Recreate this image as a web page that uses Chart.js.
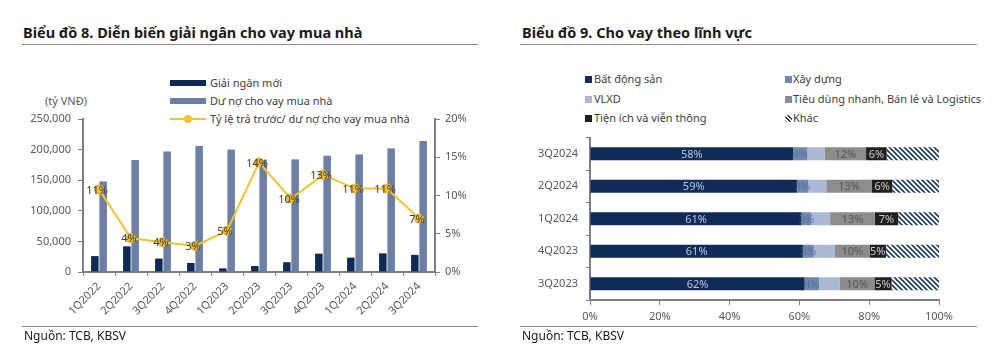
<!DOCTYPE html>
<html>
<head>
<meta charset="utf-8">
<script src="https://cdn.jsdelivr.net/npm/chart.js@4.4.0/dist/chart.umd.min.js"></script>
<style>
body{margin:0;width:1008px;height:361px;background:#fff;font-family:"Noto Sans",sans-serif;position:relative;overflow:hidden;color:#404040}
.title{position:absolute;top:22px;font-weight:700;font-size:14.5px;color:#1a1a1a;white-space:nowrap}
.rule{position:absolute;height:1px;background:#8c8c8c}
.src{position:absolute;top:327px;font-size:12px;color:#1a1a1a}
.lg{position:absolute;font-size:11px;white-space:nowrap;line-height:14px}
.sw{position:absolute}
.box{position:absolute;width:7px;height:7px}
.wrap{position:absolute}
</style>
</head>
<body>
<div class="title" style="left:23px">Biểu đồ 8. Diễn biến giải ngân cho vay mua nhà</div>
<div class="rule" style="left:22px;top:44px;width:456px"></div>
<div class="title" style="left:522px">Biểu đồ 9. Cho vay theo lĩnh vực</div>
<div class="rule" style="left:520px;top:44px;width:457px"></div>

<!-- legend left -->
<div class="sw" style="left:170px;top:80px;width:36px;height:6px;background:#0d2a57"></div>
<div class="lg" style="left:210px;top:76px">Giải ngân mới</div>
<div class="sw" style="left:170px;top:98px;width:36px;height:6px;background:#6a7fa3"></div>
<div class="lg" style="left:210px;top:94px">Dư nợ cho vay mua nhà</div>
<div class="sw" style="left:170px;top:118px;width:36px;height:2px;background:#f2c230"></div>
<div class="sw" style="left:184px;top:115px;width:8px;height:8px;border-radius:50%;background:#f2c230"></div>
<div class="lg" style="left:210px;top:112px">Tỷ lệ trả trước/ dư nợ cho vay mua nhà</div>
<div class="lg" style="left:45px;top:94px;color:#595959">(tỷ VNĐ)</div>

<!-- legend right -->
<div class="box" style="left:585px;top:76px;background:#102b56"></div>
<div class="lg" style="left:594px;top:72px">Bất động sản</div>
<div class="box" style="left:585px;top:96px;background:#a9b9d4"></div>
<div class="lg" style="left:594px;top:92px">VLXD</div>
<div class="box" style="left:585px;top:115px;background:#1f1f1f"></div>
<div class="lg" style="left:594px;top:111px">Tiện ích và viễn thông</div>
<div class="box" style="left:785px;top:76px;background:#7088b0"></div>
<div class="lg" style="left:793px;top:72px">Xây dựng</div>
<div class="box" style="left:785px;top:96px;background:#8c8c8c"></div>
<div class="lg" style="left:793px;top:92px">Tiêu dùng nhanh, Bán lẻ và Logistics</div>
<div class="box" style="left:785px;top:115px;border-radius:50%;background:repeating-linear-gradient(45deg,#1d3a66 0 1.5px,#fff 1.5px 3px)"></div>
<div class="lg" style="left:793px;top:111px">Khác</div>

<div class="wrap" style="left:0;top:100px;width:490px;height:230px"><canvas id="c1"></canvas></div>
<div class="wrap" style="left:510px;top:123px;width:490px;height:210px"><canvas id="c2"></canvas></div>

<div class="rule" style="left:22px;top:326px;width:456px"></div>
<div class="src" style="left:24px">Nguồn: TCB, KBSV</div>
<div class="rule" style="left:520px;top:326px;width:457px"></div>
<div class="src" style="left:522px">Nguồn: TCB, KBSV</div>

<script>
// Biểu đồ 8
var quarters = ['1Q2022','2Q2022','3Q2022','4Q2022','1Q2023','2Q2023','3Q2023','4Q2023','1Q2024','2Q2024','3Q2024'];
var giaiNganMoi = [26000,42000,22000,14700,6000,9800,16000,30000,23500,30500,28000];
var duNo = [148000,183000,197000,206000,200000,183000,184000,190000,192000,202000,214000];
var tyLe = [10.8,4.4,3.9,3.4,5.4,14.3,9.6,12.7,10.9,10.9,7.0];

// Biểu đồ 9
var kyBaoCao = ['3Q2024','2Q2024','1Q2024','4Q2023','3Q2023'];
var batDongSan = [58.2,59.3,60.6,61.0,61.5];
var xayDung = [4.1,3.2,2.8,3.1,4.1];
var vlxd = [4.9,5.2,5.4,6.1,6.0];
var tieuDung = [11.9,13.1,12.8,9.9,9.9];
var tienIch = [5.9,5.8,6.7,4.7,4.9];
var khac = [15.0,13.4,11.7,15.2,13.6];

var tickFont = {family:'"Noto Sans", sans-serif', size:11};
var tickColor = '#595959';
var axisColor = '#7f7f7f';

function hatch(){
  var c = document.createElement('canvas');
  c.width = 5; c.height = 5;
  var g = c.getContext('2d');
  g.fillStyle = '#fff'; g.fillRect(0,0,5,5);
  g.strokeStyle = '#1d3a66'; g.lineWidth = 1.6;
  g.beginPath();
  g.moveTo(-5,0); g.lineTo(5,10);
  g.moveTo(0,0); g.lineTo(5,5);
  g.moveTo(0,-5); g.lineTo(10,5);
  g.moveTo(-5,-5); g.lineTo(10,10);
  g.stroke();
  return g.createPattern(c,'repeat');
}

var lineLabels = {
  id:'lineLabels',
  afterDatasetsDraw: function(chart){
    var ctx = chart.ctx;
    var meta = chart.getDatasetMeta(2);
    ctx.save();
    ctx.font = '11px "Noto Sans", sans-serif';
    ctx.fillStyle = '#404040';
    ctx.textAlign = 'center';
    ctx.textBaseline = 'middle';
    meta.data.forEach(function(p,i){
      ctx.fillText(Math.round(tyLe[i]) + '%', p.x - 2, p.y + 1);
    });
    ctx.restore();
  }
};

new Chart(document.getElementById('c1'), {
  type:'bar',
  data:{
    labels: quarters,
    datasets:[
      {label:'Giải ngân mới', data:giaiNganMoi, backgroundColor:'#0d2a57', yAxisID:'y', order:2, barPercentage:0.9, categoryPercentage:0.52},
      {label:'Dư nợ cho vay mua nhà', data:duNo, backgroundColor:'#6a7fa3', yAxisID:'y', order:2, barPercentage:0.9, categoryPercentage:0.52},
      {type:'line', label:'Tỷ lệ trả trước/ dư nợ cho vay mua nhà', data:tyLe, yAxisID:'y1', order:0,
       borderColor:'#f2c230', backgroundColor:'#f2c230', borderWidth:2, pointRadius:4, pointBackgroundColor:'#f2c230', pointBorderColor:'#e8b520', tension:0}
    ]
  },
  options:{
    responsive:true, maintainAspectRatio:false, animation:false,
    layout:{padding:{top:19,left:0,right:0,bottom:0}},
    plugins:{legend:{display:false}, tooltip:{enabled:false}},
    scales:{
      x:{
        grid:{display:true, drawOnChartArea:false, tickLength:4, color:axisColor, offset:true},
        border:{color:axisColor, width:2},
        ticks:{color:tickColor, font:tickFont, maxRotation:45, minRotation:45, padding:4},
        afterFit:function(s){ s.height = 58; }
      },
      y:{
        position:'left', min:0, max:250000,
        ticks:{stepSize:50000, color:tickColor, font:tickFont, padding:7,
          callback:function(v){ return v.toLocaleString('en-US'); }},
        grid:{drawOnChartArea:false, tickLength:5, color:axisColor},
        border:{color:axisColor, width:2},
        afterFit:function(s){ s.width = 83; }
      },
      y1:{
        position:'right', min:0, max:20,
        ticks:{stepSize:5, color:tickColor, font:tickFont, padding:5,
          callback:function(v){ return v + '%'; }},
        grid:{drawOnChartArea:false, tickLength:5, color:axisColor},
        border:{color:axisColor, width:2},
        afterFit:function(s){ s.width = 55; }
      }
    }
  },
  plugins:[lineLabels]
});

var segColors = ['#b7c5df','#5a7099',null,'#555555','#c9c9c9',null];
var barLabels = {
  id:'barLabels',
  afterDatasetsDraw: function(chart){
    var ctx = chart.ctx;
    ctx.save();
    ctx.font = '11px "Noto Sans", sans-serif';
    ctx.textAlign = 'center';
    ctx.textBaseline = 'middle';
    chart.data.datasets.forEach(function(ds,di){
      if(!segColors[di]) return;
      ctx.fillStyle = segColors[di];
      chart.getDatasetMeta(di).data.forEach(function(b,i){
        ctx.fillText(Math.round(ds.data[i]) + '%', (b.x + b.base)/2, b.y + 1);
      });
    });
    ctx.restore();
  }
};

var barOpts = {barPercentage:0.4, categoryPercentage:1};
new Chart(document.getElementById('c2'), {
  type:'bar',
  data:{
    labels: kyBaoCao,
    datasets:[
      Object.assign({label:'Bất động sản', data:batDongSan, backgroundColor:'#102b56'}, barOpts),
      Object.assign({label:'Xây dựng', data:xayDung, backgroundColor:'#7088b0'}, barOpts),
      Object.assign({label:'VLXD', data:vlxd, backgroundColor:'#a9b9d4'}, barOpts),
      Object.assign({label:'Tiêu dùng nhanh, Bán lẻ và Logistics', data:tieuDung, backgroundColor:'#8c8c8c'}, barOpts),
      Object.assign({label:'Tiện ích và viễn thông', data:tienIch, backgroundColor:'#1f1f1f'}, barOpts),
      Object.assign({label:'Khác', data:khac, backgroundColor:hatch()}, barOpts)
    ]
  },
  options:{
    indexAxis:'y',
    responsive:true, maintainAspectRatio:false, animation:false,
    layout:{padding:{top:3,left:0,right:61,bottom:0}},
    plugins:{legend:{display:false}, tooltip:{enabled:false}},
    scales:{
      x:{
        stacked:true, min:0, max:100,
        ticks:{stepSize:20, color:tickColor, font:tickFont, padding:5,
          callback:function(v){ return v + '%'; }},
        grid:{drawOnChartArea:false, tickLength:5, color:axisColor},
        border:{color:axisColor, width:2},
        afterFit:function(s){ s.height = 33; }
      },
      y:{
        stacked:true,
        ticks:{color:tickColor, font:tickFont, padding:8},
        grid:{drawOnChartArea:false, tickLength:4, color:axisColor, offset:true},
        border:{color:axisColor, width:2},
        afterFit:function(s){ s.width = 80; }
      }
    }
  },
  plugins:[barLabels]
});
</script>
</body>
</html>
